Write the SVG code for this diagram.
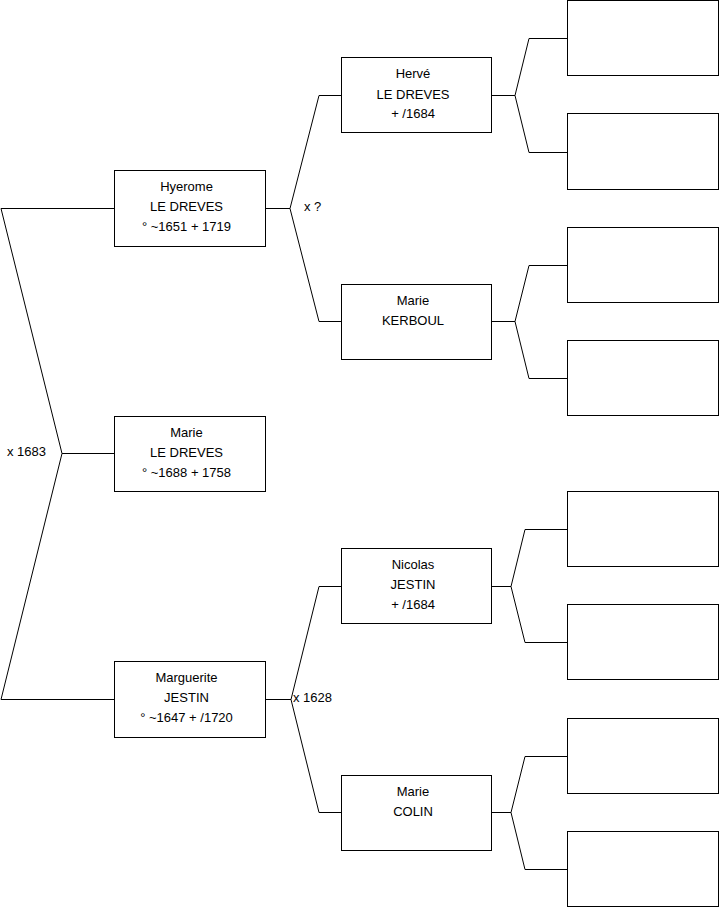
<svg xmlns="http://www.w3.org/2000/svg" width="719" height="908" viewBox="0 0 719 908">
<style>
rect.box{fill:#fff;stroke:#000;stroke-width:1}
path.c{fill:none;stroke:#000;stroke-width:1}
text{font-family:"Liberation Sans",Arial,sans-serif;font-size:13px;fill:#000}
text.n{text-anchor:middle}
</style>
<rect width="719" height="908" fill="#fff"/>
<g id="connectors">
<path class="c" d="M114,208.5 H1 L62,453.5 L1,699.5 H114 M62,453.5 H114"/>
<path class="c" d="M265,208.5 H290 M341,95.5 H319 L290,208.5 L319,321.5 H341"/>
<path class="c" d="M265,699.5 H291 M341,586.5 H319 L291,699.5 L319,812.5 H341"/>
<path class="c" d="M492,95.5 H515 M567,38.5 H529 L515,95.5 L529,152.5 H567"/>
<path class="c" d="M492,321.5 H515 M567,265.5 H529 L515,321.5 L529,378.5 H567"/>
<path class="c" d="M492,586.5 H511 M567,529.5 H525 L511,586.5 L525,642.5 H567"/>
<path class="c" d="M492,812.5 H511 M567,756.5 H525 L511,812.5 L525,869.5 H567"/>
<text x="7" y="456">x 1683</text>
<text x="304" y="211">x ?</text>
<text x="293" y="702">x 1628</text>
</g>
<g id="hyerome">
<rect class="box" x="114.5" y="170.5" width="151" height="76"/>
<text class="n" x="186.5" y="191">Hyerome</text>
<text class="n" x="186.5" y="211">LE DREVES</text>
<text class="n" x="186.5" y="231">° ~1651 + 1719</text>
</g>
<g id="marie-le-dreves">
<rect class="box" x="114.5" y="416.5" width="151" height="75"/>
<text class="n" x="186.5" y="437">Marie</text>
<text class="n" x="186.5" y="457">LE DREVES</text>
<text class="n" x="186.5" y="477">° ~1688 + 1758</text>
</g>
<g id="marguerite">
<rect class="box" x="114.5" y="661.5" width="151" height="76"/>
<text class="n" x="186.5" y="682">Marguerite</text>
<text class="n" x="186.5" y="702">JESTIN</text>
<text class="n" x="186.5" y="722">° ~1647 + /1720</text>
</g>
<g id="herve">
<rect class="box" x="341.5" y="57.5" width="150" height="75"/>
<text class="n" x="413" y="78">Hervé</text>
<text class="n" x="413" y="98.5">LE DREVES</text>
<text class="n" x="413" y="118">+ /1684</text>
</g>
<g id="marie-kerboul">
<rect class="box" x="341.5" y="284.5" width="150" height="75"/>
<text class="n" x="413" y="305">Marie</text>
<text class="n" x="413" y="325">KERBOUL</text>
</g>
<g id="nicolas">
<rect class="box" x="341.5" y="548.5" width="150" height="75"/>
<text class="n" x="413" y="569">Nicolas</text>
<text class="n" x="413" y="589">JESTIN</text>
<text class="n" x="413" y="609">+ /1684</text>
</g>
<g id="marie-colin">
<rect class="box" x="341.5" y="775.5" width="150" height="75"/>
<text class="n" x="413" y="796">Marie</text>
<text class="n" x="413" y="816">COLIN</text>
</g>
<g id="gen3-1"><rect class="box" x="567.5" y="0.5" width="151" height="75"/></g>
<g id="gen3-2"><rect class="box" x="567.5" y="113.5" width="151" height="76"/></g>
<g id="gen3-3"><rect class="box" x="567.5" y="227.5" width="151" height="75"/></g>
<g id="gen3-4"><rect class="box" x="567.5" y="340.5" width="151" height="75"/></g>
<g id="gen3-5"><rect class="box" x="567.5" y="491.5" width="151" height="75"/></g>
<g id="gen3-6"><rect class="box" x="567.5" y="604.5" width="151" height="75"/></g>
<g id="gen3-7"><rect class="box" x="567.5" y="718.5" width="151" height="75"/></g>
<g id="gen3-8"><rect class="box" x="567.5" y="831.5" width="151" height="75"/></g>
</svg>
